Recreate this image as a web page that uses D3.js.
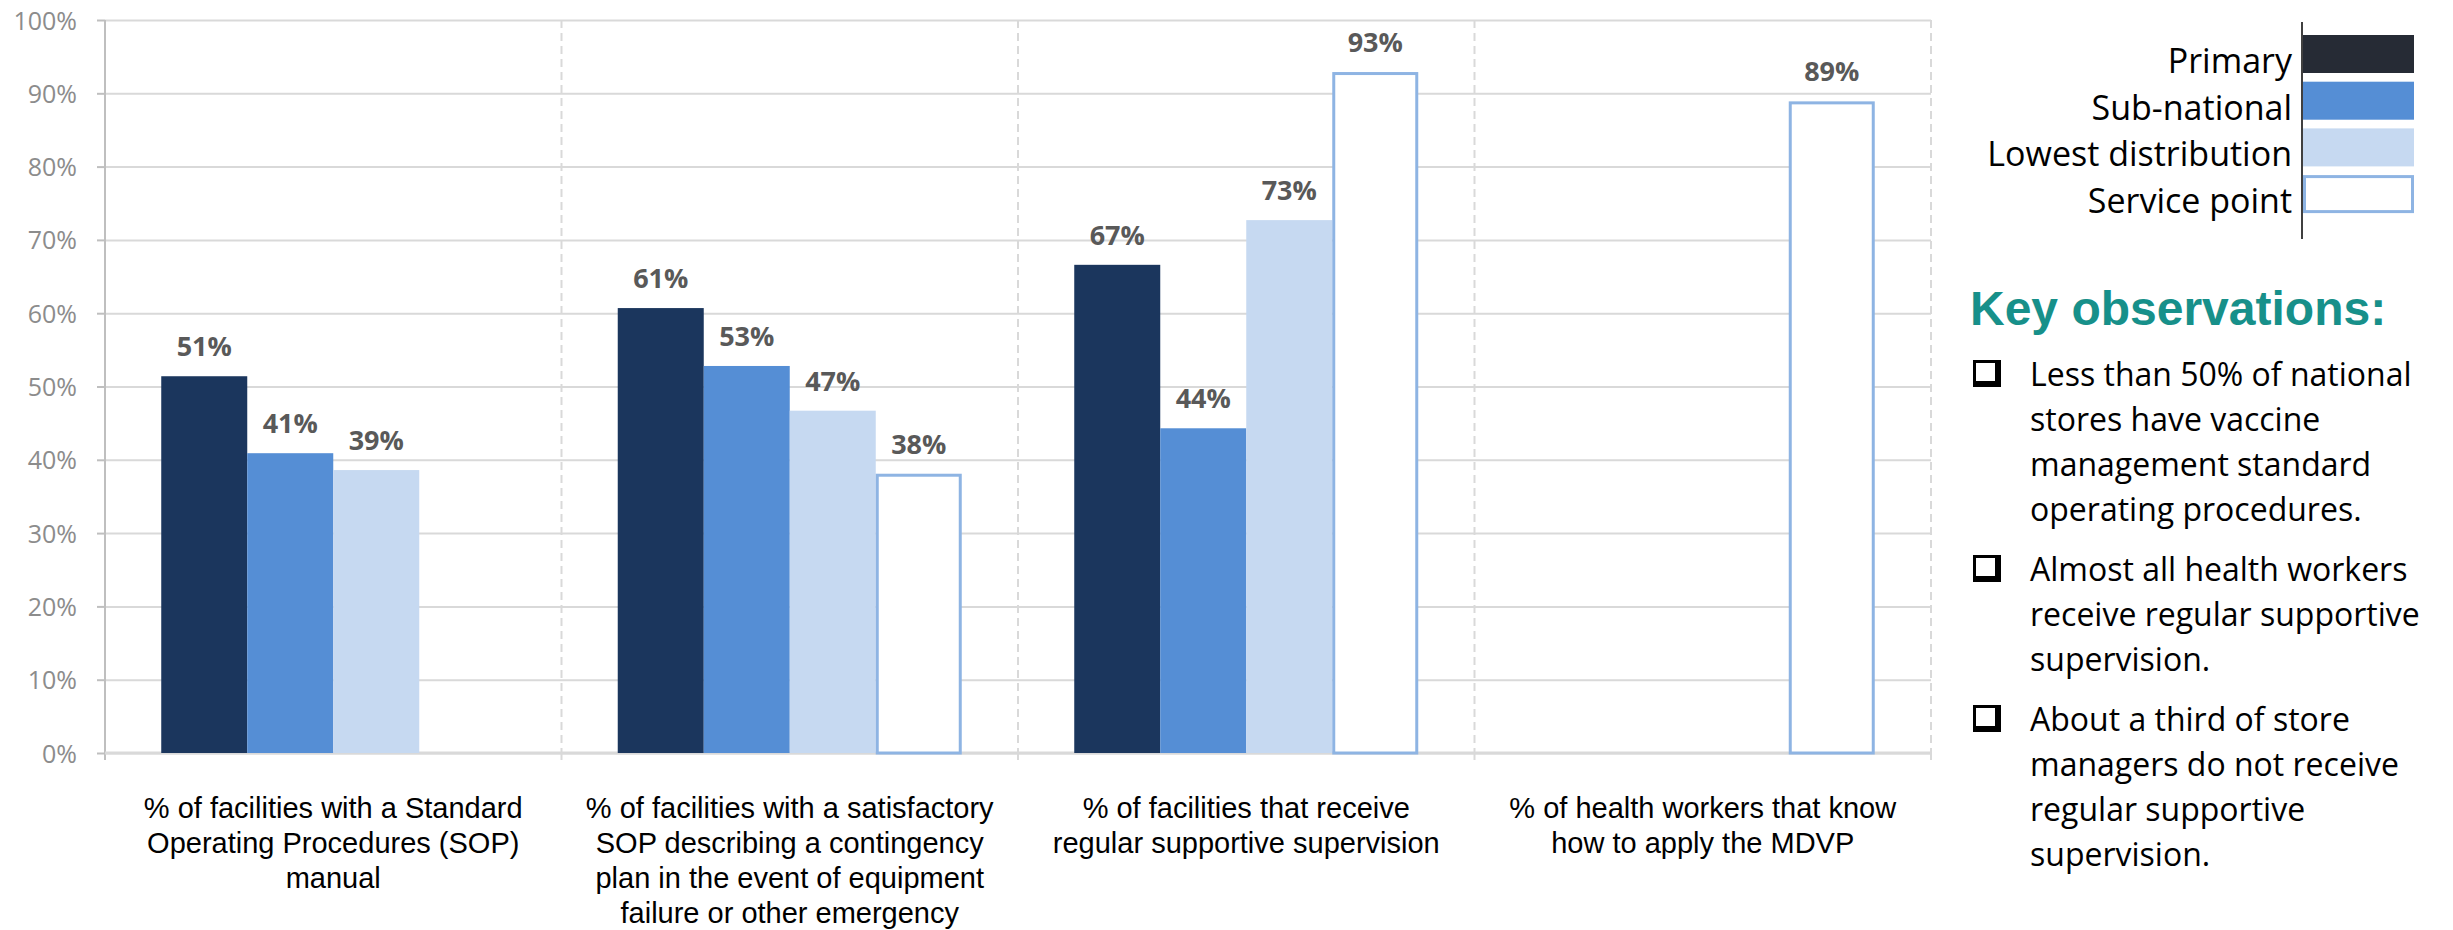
<!DOCTYPE html>
<html>
<head>
<meta charset="utf-8">
<script src="https://cdn.jsdelivr.net/npm/d3@7"></script>
<style>
  body { margin: 0; background: #fff; }
  svg { display: block; }
</style>
</head>
<body>
<div id="chart"></div>
<script>
// categories (x axis), one string per group, lines split with \n
const categories = [
    "% of facilities with a Standard\nOperating Procedures (SOP)\nmanual",
    "% of facilities with a satisfactory\nSOP describing a contingency\nplan in the event of equipment\nfailure or other emergency",
    "% of facilities that receive\nregular supportive supervision",
    "% of health workers that know\nhow to apply the MDVP"
];

const seriesNames = ["Primary", "Sub-national", "Lowest distribution", "Service point"];

// values per series, null = no bar
const primary     = [0.514, 0.607, 0.666, null];
const subNational = [0.409, 0.528, 0.443, null];
const lowest      = [0.386, 0.467, 0.727, null];
const servicePt   = [null, 0.381, 0.929, 0.889];

const yTickValues = [0, 0.1, 0.2, 0.3, 0.4, 0.5, 0.6, 0.7, 0.8, 0.9, 1.0];

const observations = [
    ["Less than 50% of national", "stores have vaccine", "management standard", "operating procedures."],
    ["Almost all health workers", "receive regular supportive", "supervision."],
    ["About a third of store", "managers do not receive", "regular supportive", "supervision."]
];

const seriesValues = [primary, subNational, lowest, servicePt];
const barFill   = ["#1b365d", "#558ed5", "#c6d9f1", "#ffffff"];
const barStroke = [null, null, null, "#8eb4e3"];
const legendFill = ["#262b35", "#558ed5", "#c6d9f1", "#ffffff"];

const W = 2453, H = 930;
const plotL = 105, plotR = 1931, plotT = 20, plotB = 753;
const calibri = "'Open Sans', 'Noto Sans', sans-serif";
const arial = "'Liberation Sans', Arial, sans-serif";

const svg = d3.select("#chart").append("svg")
    .attr("width", W)
    .attr("height", H)
    .attr("viewBox", [0, 0, W, H]);

svg.append("rect").attr("width", W).attr("height", H).attr("fill", "#fff");

const x = d3.scaleBand()
    .domain(d3.range(categories.length))
    .range([plotL, plotR])
    .padding(0);

const xInner = d3.scaleBand()
    .domain(d3.range(seriesNames.length))
    .range([0, x.bandwidth()])
    .paddingInner(0)
    .paddingOuter(0.654);

const y = d3.scaleLinear()
    .domain([0, 1])
    .range([plotB, plotT]);

// horizontal gridlines
svg.append("g")
    .attr("transform", `translate(${plotL},0)`)
    .call(d3.axisLeft(y).tickValues(yTickValues).tickSize(-(plotR - plotL)).tickFormat(""))
    .call(g => g.select(".domain").remove())
    .call(g => g.selectAll("line").attr("stroke", "#d9d9d9").attr("stroke-width", 2));

// vertical dashed dividers between groups
const bounds = d3.range(1, categories.length + 1).map(i => i < categories.length ? x(i) : plotR);
svg.append("g")
    .selectAll("line")
    .data(bounds)
    .join("line")
    .attr("x1", d => d).attr("x2", d => d)
    .attr("y1", plotT).attr("y2", plotB)
    .attr("stroke", "#d9d9d9")
    .attr("stroke-width", 2)
    .attr("stroke-dasharray", "8,5");

// y axis with labels
svg.append("g")
    .attr("transform", `translate(${plotL},0)`)
    .call(d3.axisLeft(y).tickValues(yTickValues).tickSize(8).tickPadding(20).tickFormat(d3.format(".0%")))
    .call(g => g.select(".domain").attr("stroke", "#bfbfbf").attr("stroke-width", 2)
        .attr("d", `M0,${plotT}V${plotB + 7}`))
    .call(g => g.selectAll(".tick line").attr("stroke", "#bfbfbf").attr("stroke-width", 2))
    .call(g => g.selectAll(".tick text")
        .attr("fill", "#8c8c8c")
        .attr("font-family", calibri)
        .attr("font-size", 25)
        .attr("dy", "0.36em"));

// x axis line + tick marks at the group boundaries
svg.append("line")
    .attr("x1", plotL).attr("x2", plotR)
    .attr("y1", plotB).attr("y2", plotB)
    .attr("stroke", "#d9d9d9").attr("stroke-width", 3);

svg.append("g")
    .selectAll("line")
    .data(bounds)
    .join("line")
    .attr("x1", d => d).attr("x2", d => d)
    .attr("y1", plotB).attr("y2", plotB + 7)
    .attr("stroke", "#d9d9d9").attr("stroke-width", 2);

// bars
const groups = svg.append("g")
    .selectAll("g")
    .data(categories)
    .join("g")
    .attr("transform", (d, i) => `translate(${x(i)},0)`);

const cells = groups.selectAll("g")
    .data((d, i) => seriesValues.map((vals, s) => ({s, v: vals[i]})).filter(c => c.v != null))
    .join("g");

cells.append("rect")
    .attr("x", d => xInner(d.s) + (barStroke[d.s] ? 1.5 : 0))
    .attr("y", d => y(d.v) + (barStroke[d.s] ? 1.5 : 0))
    .attr("width", d => xInner.bandwidth() - (barStroke[d.s] ? 3 : 0))
    .attr("height", d => plotB - y(d.v) - (barStroke[d.s] ? 1.5 : 0))
    .attr("fill", d => barFill[d.s])
    .attr("stroke", d => barStroke[d.s])
    .attr("stroke-width", 3);

cells.append("text")
    .attr("x", d => xInner(d.s) + xInner.bandwidth() / 2)
    .attr("y", d => y(d.v) - 20)
    .attr("text-anchor", "middle")
    .attr("font-family", calibri)
    .attr("font-weight", "bold")
    .attr("font-size", 27)
    .attr("fill", "#595959")
    .text(d => d3.format(".0%")(d.v));

// category labels
svg.append("g")
    .selectAll("text")
    .data(categories)
    .join("text")
    .attr("x", (d, i) => x(i) + x.bandwidth() / 2)
    .attr("y", 818)
    .attr("text-anchor", "middle")
    .attr("font-family", arial)
    .attr("font-size", 29)
    .attr("fill", "#000")
    .selectAll("tspan")
    .data(d => d.split("\n"))
    .join("tspan")
    .attr("x", function() { return this.parentNode.getAttribute("x"); })
    .attr("dy", (d, i) => i === 0 ? 0 : 35)
    .text(d => d);

// legend
const legend = svg.append("g");
legend.append("line")
    .attr("x1", 2302).attr("x2", 2302)
    .attr("y1", 22).attr("y2", 239)
    .attr("stroke", "#000").attr("stroke-width", 1.5);

const legItems = legend.selectAll("g")
    .data(seriesNames)
    .join("g")
    .attr("transform", (d, i) => `translate(0,${35 + i * 46.7})`);

legItems.append("rect")
    .attr("x", (d, i) => barStroke[i] ? 2304.5 : 2303)
    .attr("y", (d, i) => barStroke[i] ? 1.5 : 0)
    .attr("width", (d, i) => barStroke[i] ? 108 : 111)
    .attr("height", (d, i) => barStroke[i] ? 35 : 38)
    .attr("fill", (d, i) => legendFill[i])
    .attr("stroke", (d, i) => barStroke[i])
    .attr("stroke-width", 3);

legItems.append("text")
    .attr("x", 2292)
    .attr("y", 38)
    .attr("text-anchor", "end")
    .attr("font-family", calibri)
    .attr("font-size", 34)
    .attr("fill", "#000")
    .text(d => d);

// key observations
svg.append("text")
    .attr("x", 1970)
    .attr("y", 325)
    .attr("font-family", arial)
    .attr("font-weight", "bold")
    .attr("font-size", 48)
    .attr("fill", "#17908a")
    .text("Key observations:");

let baseY = 386;
observations.forEach(lines => {
    const g = svg.append("g");
    g.append("rect")
        .attr("x", 1973).attr("y", baseY - 26)
        .attr("width", 28).attr("height", 27)
        .attr("fill", "#000");
    g.append("rect")
        .attr("x", 1976).attr("y", baseY - 23)
        .attr("width", 19).attr("height", 18)
        .attr("fill", "#fff");
    g.append("text")
        .attr("font-family", calibri)
        .attr("font-size", 32)
        .attr("fill", "#000")
        .selectAll("tspan")
        .data(lines)
        .join("tspan")
        .attr("x", 2030)
        .attr("y", (d, i) => baseY + i * 45)
        .text(d => d);
    baseY += lines.length * 45 + 15;
});
</script>
</body>
</html>
